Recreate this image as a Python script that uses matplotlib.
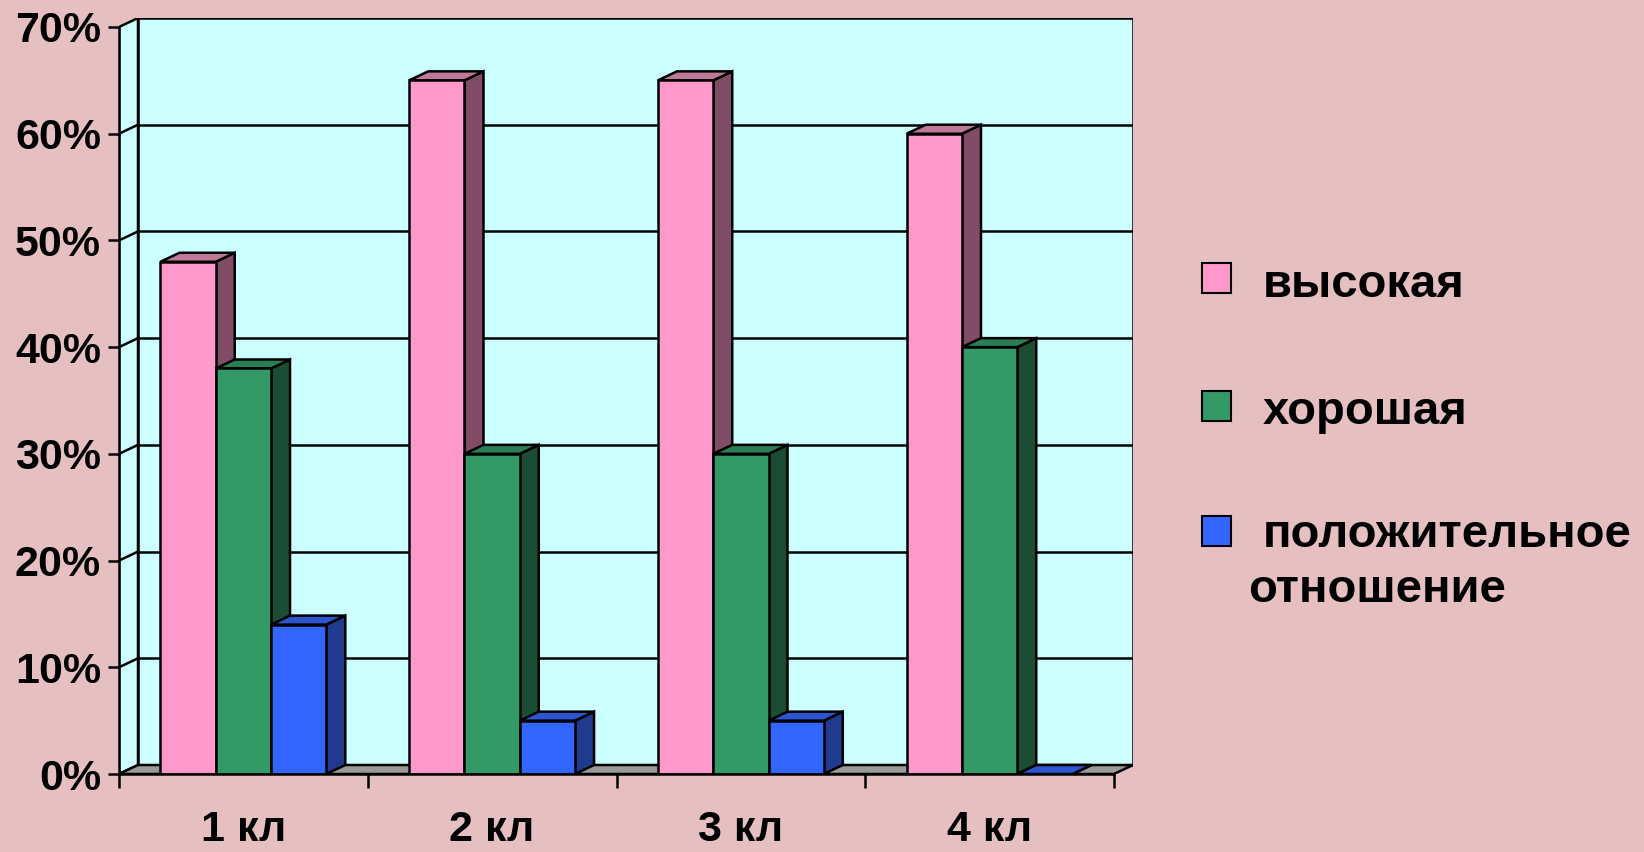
import matplotlib
matplotlib.use("Agg")
import matplotlib.pyplot as plt
from matplotlib.patches import Polygon, Rectangle
from matplotlib.transforms import blended_transform_factory

# данные
categories = ["1 кл", "2 кл", "3 кл", "4 кл"]
series_names = ["высокая", "хорошая", "положительное\nотношение"]
vysokaya = [48, 65, 65, 60]
horoshaya = [38, 30, 30, 40]
polozhit = [14, 5, 5, 0]
y_ticks = [0, 10, 20, 30, 40, 50, 60, 70]

values = [vysokaya, horoshaya, polozhit]
front_col = ["#FF99CC", "#339966", "#3366FF"]
top_col = ["#BF7898", "#2B7D55", "#2E55D0"]
side_col = ["#804C66", "#1B4D33", "#1F3A8F"]

plt.rcParams["font.family"] = ["Liberation Sans", "DejaVu Sans"]
plt.rcParams["font.weight"] = "bold"

W, H = 1644, 852
fig = plt.figure(figsize=(W / 100, H / 100), dpi=100)
fig.patch.set_facecolor("#E6C0C1")

# геометрия в пикселях
x0, x1 = 119, 1114
y0, y70 = 774, 27
dpx, dpy = 19, 9
n = len(categories)
ymax = y_ticks[-1]
xs = (x1 - x0) / n
ys = (y0 - y70) / ymax
DX = dpx / xs
DY = dpy / ys

ax = fig.add_axes([x0 / W, (H - y0) / H, (x1 + dpx - x0) / W, (y0 - y70 + dpy) / H])
ax.set_xlim(0, n + DX)
ax.set_ylim(0, ymax + DY)
ax.patch.set_visible(False)
for s in ax.spines.values():
    s.set_visible(False)

wall = "#CCFFFF"
lw = 1.8
# задняя стенка
ax.add_patch(Rectangle((DX, DY), n, ymax, facecolor=wall, edgecolor="black", lw=lw, zorder=1))
# левая стенка
ax.add_patch(Polygon([(0, 0), (DX, DY), (DX, ymax + DY), (0, ymax)], closed=True,
                     facecolor=wall, edgecolor="black", lw=lw, zorder=1))
# пол
ax.add_patch(Polygon([(0, 0), (n, 0), (n + DX, DY), (DX, DY)], closed=True,
                     facecolor="#9A9A9A", edgecolor="black", lw=lw, zorder=1))
# сетка
for t in y_ticks[1:-1]:
    ax.plot([DX, n + DX], [t + DY, t + DY], color="black", lw=lw, zorder=2)
    ax.plot([0, DX], [t, t + DY], color="black", lw=lw, zorder=2)

# столбики
w = 1 / (3 + 1.5)
off = 0.75 * w
z = 3
for i in range(n):
    for j, vals in enumerate(values):
        left = i + off + j * w
        v = vals[i]
        ax.bar(left, v, width=w, align="edge", color=front_col[j], edgecolor="black",
               lw=lw, zorder=z + 0.2)
        ax.add_patch(Polygon([(left, v), (left + w, v), (left + w + DX, v + DY), (left + DX, v + DY)],
                             closed=True, facecolor=top_col[j], edgecolor="black", lw=lw, zorder=z + 0.1))
        ax.add_patch(Polygon([(left + w, 0), (left + w + DX, DY), (left + w + DX, v + DY), (left + w, v)],
                             closed=True, facecolor=side_col[j], edgecolor="black", lw=lw, zorder=z))
        z += 1

# оси
ax.plot([0, n], [0, 0], color="black", lw=lw, zorder=z, clip_on=False)
ax.plot([0, 0], [0, ymax], color="black", lw=lw, zorder=z, clip_on=False)
ax.set_yticks(y_ticks)
ax.set_yticklabels([f"{t}%" for t in y_ticks])
ax.tick_params(axis="y", length=8, width=1.8, pad=5, labelsize=31)
ax.set_xticks(range(n + 1))
ax.set_xticklabels([""] * (n + 1))
ax.tick_params(axis="x", length=10, width=1.8)

tr = blended_transform_factory(ax.transData, fig.transFigure)
for i, c in enumerate(categories):
    ax.text(i + 0.5, (H - 841) / H, c, transform=tr, ha="center", va="baseline", fontsize=31)

# легенда
marker_y = [278, 406, 531]
text_base = [297, 424, 547]
for j, name in enumerate(series_names):
    fig.patches.append(Rectangle(((1202) / W, (H - marker_y[j] - 15) / H), 29 / W, 30 / H,
                                 transform=fig.transFigure, facecolor=front_col[j],
                                 edgecolor="black", lw=1.5))
    lines = name.split("\n")
    fig.text(1263 / W, (H - text_base[j]) / H, lines[0], va="baseline", fontsize=34)
    if len(lines) > 1:
        fig.text(1248 / W, (H - text_base[j] - 55) / H, lines[1], va="baseline", fontsize=34)

plt.savefig("out.png", dpi=100, facecolor=fig.get_facecolor())
